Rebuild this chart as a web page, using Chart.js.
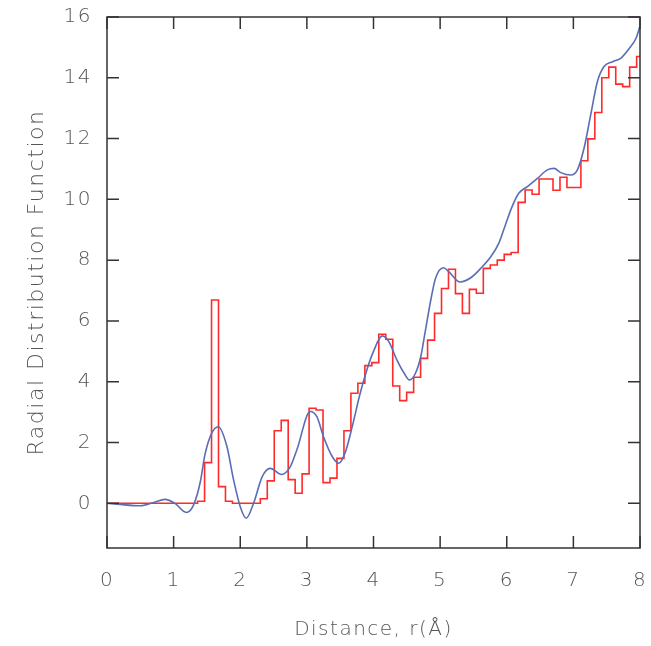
<!DOCTYPE html>
<html>
<head>
<meta charset="utf-8">
<script src="https://cdn.jsdelivr.net/npm/chart.js@4.4.0/dist/chart.umd.min.js"></script>
<style>
  html, body { margin: 0; padding: 0; background: #fff; }
</style>
</head>
<body>
<canvas id="rdfChart" width="651" height="646"></canvas>
<script>
// histogram of pair distances, one value per bin starting at r = 0
const binWidth = 0.1046;
const histValues = [
  0, 0, 0, 0, 0, 0, 0, 0, 0, 0,
  0, 0, 0, 0.07, 1.34, 6.69, 0.55, 0.07, 0, 0,
  0, 0, 0.15, 0.74, 2.39, 2.73, 0.78, 0.33, 0.97, 3.13,
  3.07, 0.68, 0.83, 1.48, 2.39, 3.62, 3.95, 4.53, 4.63, 5.56,
  5.40, 3.86, 3.38, 3.65, 4.15, 4.77, 5.37, 6.25, 7.07, 7.70,
  6.90, 6.25, 7.04, 6.91, 7.73, 7.84, 8.00, 8.19, 8.25, 9.90,
  10.31, 10.17, 10.67, 10.67, 10.30, 10.73, 10.39, 10.39, 11.27, 11.99,
  12.86, 14.00, 14.35, 13.79, 13.71, 14.35, 14.70
];

// smoothed g(r)
const curveR = [0, 0.2, 0.5, 0.7, 0.87, 1.02, 1.19, 1.3, 1.4, 1.47,
  1.57, 1.67, 1.8, 1.9, 2.0, 2.09, 2.2, 2.33, 2.45, 2.62,
  2.75, 2.85, 3.05, 3.15, 3.25, 3.38, 3.48, 3.58, 3.68, 3.8,
  3.9, 4.0, 4.13, 4.23, 4.35, 4.46, 4.54, 4.63, 4.71, 4.78,
  4.86, 4.93, 5.05, 5.13, 5.3, 5.46, 5.61, 5.76, 5.88, 5.98,
  6.08, 6.18, 6.31, 6.46, 6.61, 6.71, 6.81, 6.96, 7.06, 7.16,
  7.26, 7.36, 7.46, 7.59, 7.71, 7.84, 7.94, 8.0];
const curveG = [0, -0.04, -0.08, 0.03, 0.13, 0.0, -0.30, -0.05, 0.7, 1.6,
  2.30, 2.52, 1.87, 0.77, -0.11, -0.49, 0.0, 0.88, 1.15, 0.95,
  1.2, 1.76, 3.02, 2.85, 2.19, 1.54, 1.32, 1.70, 2.52, 3.62,
  4.39, 5.0, 5.51, 5.32, 4.72, 4.28, 4.06, 4.28, 4.83, 5.70,
  6.69, 7.40, 7.75, 7.62, 7.28, 7.42, 7.73, 8.11, 8.55, 9.16,
  9.76, 10.20, 10.42, 10.69, 10.97, 11.02, 10.88, 10.80, 10.97, 11.68,
  12.78, 13.87, 14.37, 14.53, 14.64, 14.97, 15.30, 15.7];

const xTickValues = [0, 1, 2, 3, 4, 5, 6, 7, 8];
const yTickValues = [0, 2, 4, 6, 8, 10, 12, 14, 16];

const histPoints = histValues.map((v, i) => ({ x: i * binWidth, y: v }));
histPoints.push({ x: 8, y: histValues[histValues.length - 1] });
const curvePoints = curveR.map((r, i) => ({ x: r, y: curveG[i] }));

const textColor = '#555';
const tickFont = { family: 'DejaVu Sans', size: 20, weight: 200 };

// wider letter spacing for all axis text
const spacedText = {
    id: 'spacedText',
    beforeDraw(chart) { chart.ctx.letterSpacing = '1.5px'; },
    afterDraw(chart) { chart.ctx.letterSpacing = '0px'; }
};

// box around the plot with inward tick marks on all four sides
const frameTicks = {
    id: 'frameTicks',
    afterDatasetsDraw(chart) {
        const { ctx, chartArea: a, scales: { x, y } } = chart;
        const len = 12;
        ctx.save();
        ctx.strokeStyle = '#333';
        ctx.lineWidth = 1.5;
        ctx.strokeRect(a.left, a.top, a.right - a.left, a.bottom - a.top);
        ctx.beginPath();
        xTickValues.forEach(v => {
            const px = x.getPixelForValue(v);
            ctx.moveTo(px, a.bottom); ctx.lineTo(px, a.bottom - len);
            ctx.moveTo(px, a.top); ctx.lineTo(px, a.top + len);
        });
        yTickValues.forEach(v => {
            const py = y.getPixelForValue(v);
            ctx.moveTo(a.left, py); ctx.lineTo(a.left + len, py);
            ctx.moveTo(a.right, py); ctx.lineTo(a.right - len, py);
        });
        ctx.stroke();
        ctx.restore();
    }
};

new Chart(document.getElementById('rdfChart'), {
    type: 'line',
    data: {
        datasets: [{
            data: histPoints,
            borderColor: '#ff2a2a',
            borderWidth: 1.6,
            stepped: 'before',
            pointRadius: 0,
            fill: false,
            order: 2
        }, {
            data: curvePoints,
            borderColor: '#5a6db5',
            borderWidth: 1.6,
            tension: 0.4,
            cubicInterpolationMode: 'monotone',
            pointRadius: 0,
            fill: false,
            order: 1
        }]
    },
    options: {
        responsive: false,
        animation: false,
        layout: { padding: { top: 17, right: 11, left: 0, bottom: 0 } },
        plugins: { legend: { display: false }, tooltip: { enabled: false } },
        scales: {
            x: {
                type: 'linear',
                min: 0,
                max: 8,
                grid: { display: false },
                border: { display: false },
                afterBuildTicks: s => { s.ticks = xTickValues.map(v => ({ value: v })); },
                afterFit: s => { s.height = 98; s.paddingLeft = 0; s.paddingRight = 0; },
                ticks: { color: textColor, font: tickFont, padding: 13, maxRotation: 0 },
                title: {
                    display: true,
                    text: 'Distance, r(Å)',
                    color: textColor,
                    font: tickFont,
                    padding: { top: 0, bottom: 4 }
                }
            },
            y: {
                type: 'linear',
                min: -1.47,
                max: 16,
                grid: { display: false },
                border: { display: false },
                afterBuildTicks: s => { s.ticks = yTickValues.map(v => ({ value: v })); },
                afterFit: s => { s.width = 107; s.paddingTop = 0; s.paddingBottom = 0; },
                ticks: { color: textColor, font: tickFont, padding: 7 },
                title: {
                    display: true,
                    text: 'Radial Distribution Function',
                    color: textColor,
                    font: { family: 'DejaVu Sans', size: 22, weight: 200 },
                    padding: { top: 24, bottom: 0 }
                }
            }
        }
    },
    plugins: [spacedText, frameTicks]
});
</script>
</body>
</html>
